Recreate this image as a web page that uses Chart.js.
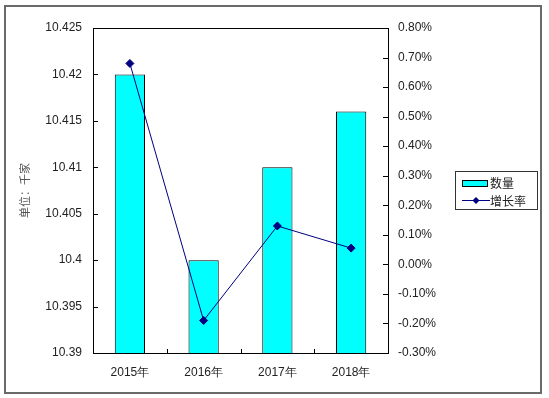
<!DOCTYPE html>
<html>
<head>
<meta charset="utf-8">
<script src="https://cdn.jsdelivr.net/npm/chart.js@4.4.1/dist/chart.umd.min.js"></script>
<style>
  html, body { margin: 0; padding: 0; background: #fff; }
  #wrap { width: 549px; height: 398px; }
</style>
</head>
<body>
<div id="wrap"><canvas id="mainChart" width="549" height="398"></canvas></div>
<script>
var categories = ['2015年', '2016年', '2017年', '2018年'];
var countValues = [10.42, 10.40, 10.41, 10.416];
var growthValues = [0.68, -0.19, 0.13, 0.055];
var countLabel = '数量';
var growthLabel = '增长率';
var yTitle = '单位：千家';

var tickFont = { family: 'Liberation Sans, Arial, sans-serif', size: 12 };
var cjkFont = '"Noto Sans CJK SC", sans-serif';

// frame, plot box, inward tick marks and the legend box
var decorPlugin = {
	id: 'decor',
	beforeDraw: function(chart) {
		var ctx = chart.ctx;
		ctx.save();
		ctx.fillStyle = '#fff';
		ctx.fillRect(0, 0, chart.width, chart.height);
		ctx.restore();
	},
	afterDraw: function(chart) {
		var ctx = chart.ctx;
		var area = chart.chartArea;
		ctx.save();
		// outer frame
		ctx.strokeStyle = '#6a6a6a';
		ctx.lineWidth = 2;
		ctx.strokeRect(5, 6, 536, 387);
		// plot box
		ctx.strokeStyle = '#000';
		ctx.lineWidth = 1;
		ctx.strokeRect(Math.round(area.left) + 0.5, Math.round(area.top) + 0.5,
			Math.round(area.right - area.left), Math.round(area.bottom - area.top));
		// inward ticks
		ctx.beginPath();
		var yl = chart.scales.y;
		yl.ticks.forEach(function(t) {
			var py = Math.round(yl.getPixelForValue(t.value)) + 0.5;
			ctx.moveTo(area.left, py);
			ctx.lineTo(area.left + 5, py);
		});
		var yr = chart.scales.y1;
		yr.ticks.forEach(function(t) {
			var py = Math.round(yr.getPixelForValue(t.value)) + 0.5;
			ctx.moveTo(area.right, py);
			ctx.lineTo(area.right - 5, py);
		});
		var xs = chart.scales.x;
		var half = (xs.getPixelForTick(1) - xs.getPixelForTick(0)) / 2;
		for (var i = 1; i < categories.length; i++) {
			var px = Math.round(xs.getPixelForTick(i) - half) + 0.5;
			ctx.moveTo(px, area.bottom);
			ctx.lineTo(px, area.bottom - 4);
		}
		ctx.stroke();

		// legend
		var lx = 455, ly = 171, lw = 82, lh = 38;
		ctx.strokeStyle = '#333';
		ctx.lineWidth = 1;
		ctx.strokeRect(lx + 0.5, ly + 0.5, lw, lh);
		var barDs = chart.data.datasets[1];
		var lineDs = chart.data.datasets[0];
		ctx.fillStyle = barDs.backgroundColor;
		ctx.fillRect(462.5, 180.5, 25, 6);
		ctx.strokeStyle = barDs.borderColor;
		ctx.strokeRect(462.5, 180.5, 25, 6);
		ctx.strokeStyle = lineDs.borderColor;
		ctx.beginPath();
		ctx.moveTo(462, 200.5);
		ctx.lineTo(490, 200.5);
		ctx.stroke();
		ctx.fillStyle = lineDs.pointBackgroundColor;
		ctx.beginPath();
		ctx.moveTo(476, 197);
		ctx.lineTo(479.5, 200.5);
		ctx.lineTo(476, 204);
		ctx.lineTo(472.5, 200.5);
		ctx.closePath();
		ctx.fill();
		ctx.fillStyle = '#222';
		ctx.font = '12px ' + cjkFont;
		ctx.textBaseline = 'middle';
		ctx.textAlign = 'left';
		ctx.fillText(barDs.label, 490, 183);
		ctx.fillText(lineDs.label, 490, 201);
		ctx.restore();
	}
};

var mainChart = new Chart(document.getElementById('mainChart'), {
	type: 'bar',
	data: {
		labels: categories,
		datasets: [
		{
			type: 'line',
			label: growthLabel,
			data: growthValues,
			yAxisID: 'y1',
			borderColor: '#000080',
			backgroundColor: '#000080',
			pointBackgroundColor: '#000080',
			pointBorderColor: '#000080',
			pointStyle: 'rectRot',
			pointRadius: 4,
			borderWidth: 1,
			tension: 0,
			order: 0
		},
		{
			type: 'bar',
			label: countLabel,
			data: countValues,
			yAxisID: 'y',
			backgroundColor: '#00ffff',
			borderColor: '#000',
			borderWidth: 1,
			categoryPercentage: 1,
			barPercentage: 0.41,
			base: 10.39,
			order: 1
		}
		]
	},
	options: {
		responsive: false,
		animation: false,
		devicePixelRatio: 1,
		layout: { padding: { left: 18, top: 28, right: 96, bottom: 0 } },
		plugins: {
			legend: { display: false },
			tooltip: { enabled: false }
		},
		scales: {
			x: {
				offset: true,
				grid: { display: false, drawTicks: false },
				border: { display: true, color: '#000', width: 1 },
				ticks: { font: tickFont, color: '#222', padding: 12, maxRotation: 0 },
				afterFit: function(s) { s.height = 45; }
			},
			y: {
				position: 'left',
				min: 10.39,
				max: 10.425,
				grid: { display: false, drawTicks: false },
				border: { display: true, color: '#000', width: 1 },
				ticks: {
					stepSize: 0.005,
					font: tickFont,
					color: '#222',
					padding: 11,
					callback: function(v) { return String(parseFloat(v.toFixed(3))); }
				},
				title: {
					display: true,
					text: yTitle,
					color: '#555',
					font: { family: cjkFont, size: 11 },
					padding: 0
				},
				afterFit: function(s) { s.width = 75; }
			},
			y1: {
				position: 'right',
				min: -0.3,
				max: 0.8,
				grid: { display: false, drawTicks: false },
				border: { display: true, color: '#000', width: 1 },
				ticks: {
					stepSize: 0.1,
					font: tickFont,
					color: '#222',
					padding: 10,
					callback: function(v) { return v.toFixed(2) + '%'; }
				},
				afterFit: function(s) { s.width = 65; }
			}
		}
	},
	plugins: [decorPlugin]
});

window.mainChart = mainChart;
</script>
</body>
</html>
